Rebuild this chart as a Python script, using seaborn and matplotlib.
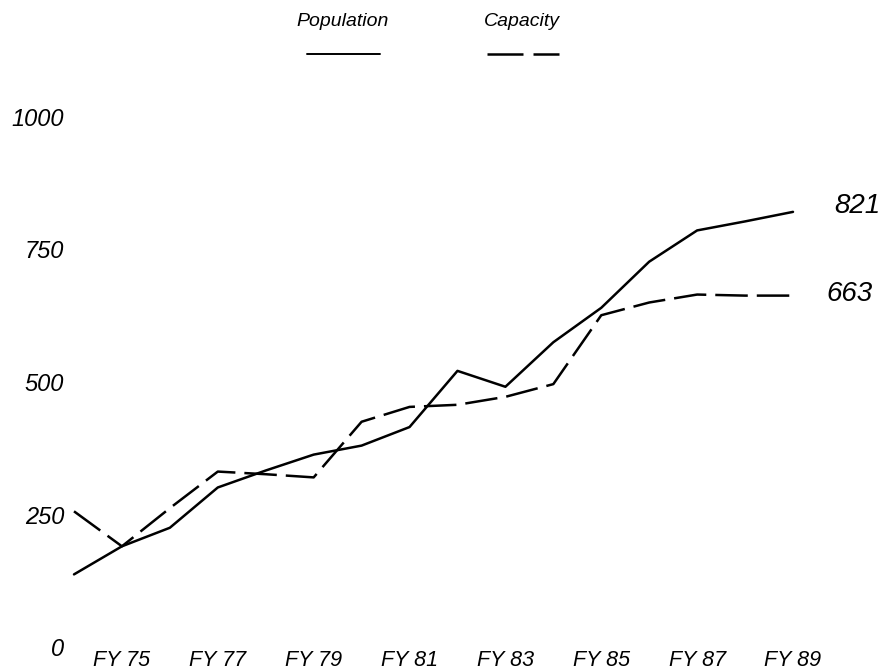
import numpy as np
import pandas as pd
import seaborn as sns
import matplotlib.pyplot as plt
from matplotlib.lines import Line2D

years = list(range(74, 90))
population = [137, 190, 225, 301, 333, 363, 380, 415, 521, 491, 575, 640, 727, 786, 803, 821]
capacity = [256, 190, 262, 331, 326, 320, 425, 453, 457, 472, 496, 626, 650, 665, 663, 663]
series_names = ["Population", "Capacity"]
tick_years = [75, 77, 79, 81, 83, 85, 87, 89]
tick_labels = ["FY 75", "FY 77", "FY 79", "FY 81", "FY 83", "FY 85", "FY 87", "FY 89"]
y_ticks = [0, 250, 500, 750, 1000]
y_tick_labels = ["0", "250", "500", "750", "1000"]
end_labels = ["821", "663"]

df = pd.DataFrame({
    "year": years * 2,
    "value": population + capacity,
    "series": [series_names[0]] * len(years) + [series_names[1]] * len(years),
})

sns.set_style("white")
plt.rcParams["font.family"] = ["Liberation Sans", "DejaVu Sans"]
plt.rcParams["font.style"] = "italic"
plt.rcParams["text.color"] = "black"
plt.rcParams["xtick.color"] = "black"
plt.rcParams["ytick.color"] = "black"

fig = plt.figure(figsize=(8.95, 6.70), dpi=100)
ax = fig.add_axes([74 / 895, 1 - 647 / 670, (793 - 74) / 895, 530 / 670])

dash = (13, 3.6)
sns.lineplot(data=df, x="year", y="value", style="series",
             dashes={"Population": "", "Capacity": dash},
             color="black", linewidth=1.8, ax=ax, legend=False)
for ln in ax.lines:
    ln.set_clip_on(False)

ax.set_xlim(74, 89)
ax.set_ylim(0, 1000)
ax.set_xticks(tick_years)
ax.set_xticklabels(tick_labels, fontsize=15.5, style="italic", color="black")
ax.set_yticks(y_ticks)
ax.set_yticklabels(y_tick_labels, fontsize=17, style="italic", color="black")
ax.tick_params(axis="both", length=0)
ax.tick_params(axis="y", pad=7)
ax.tick_params(axis="x", pad=2)
ax.set_xlabel("")
ax.set_ylabel("")
for s in ax.spines.values():
    s.set_visible(False)
ax.grid(False)

ax.annotate(end_labels[0], xy=(years[-1], population[-1]), xytext=(30, 4),
            textcoords="offset points", ha="left", va="center", fontsize=20,
            style="italic", color="black")
ax.annotate(end_labels[1], xy=(years[-1], capacity[-1]), xytext=(24, 1),
            textcoords="offset points", ha="left", va="center", fontsize=20,
            style="italic", color="black")

# legend
fig.text(343 / 895, 1 - 22 / 670, series_names[0], ha="center", va="center",
         fontsize=14, style="italic", color="black")
fig.text(522 / 895, 1 - 22 / 670, series_names[1], ha="center", va="center",
         fontsize=14, style="italic", color="black")
fig.add_artist(Line2D([307 / 895, 380 / 895], [1 - 54 / 670] * 2, transform=fig.transFigure,
                      color="black", linewidth=1.4))
fig.add_artist(Line2D([487 / 895, 559 / 895], [1 - 54 / 670] * 2, transform=fig.transFigure,
                      color="black", linewidth=1.8, linestyle=(0, (14.4, 4))))

fig.savefig("out.png", dpi=100, facecolor="white")
